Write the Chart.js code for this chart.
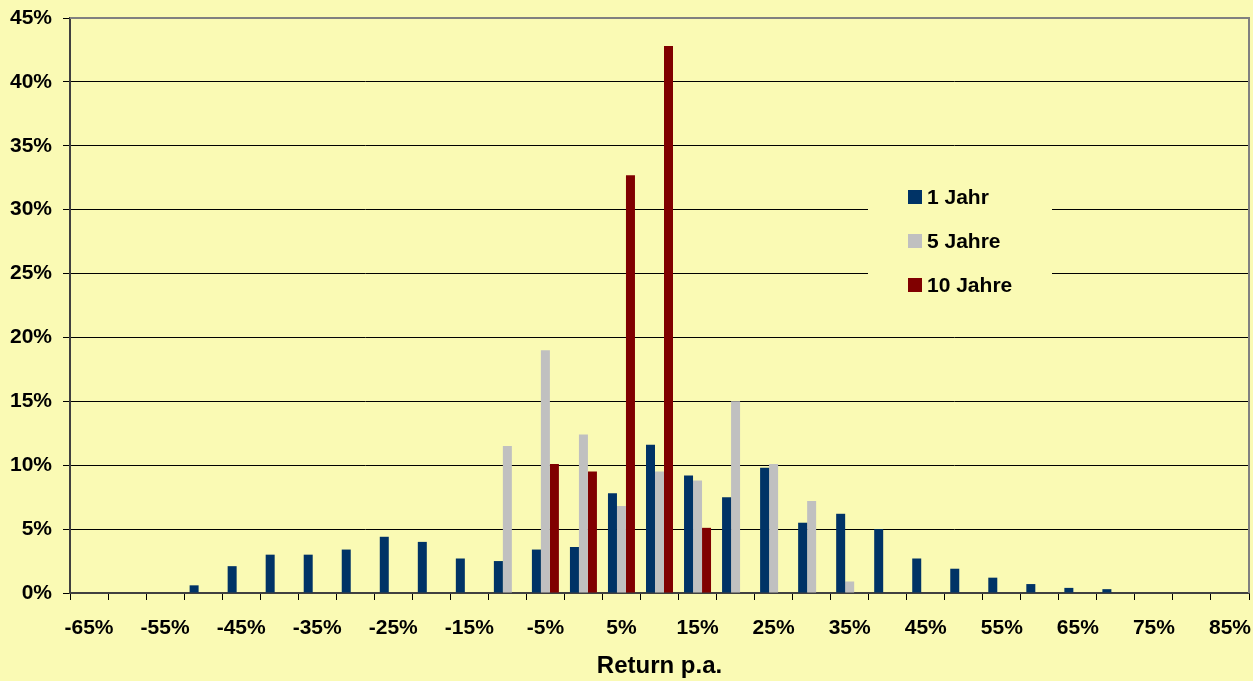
<!DOCTYPE html>
<html>
<head>
<meta charset="utf-8">
<script src="https://cdn.jsdelivr.net/npm/chart.js@4/dist/chart.umd.min.js"></script>
<style>
  html, body { margin: 0; padding: 0; background: #fafab4; }
  #chart1 { display: block; }
</style>
</head>
<body>
<canvas id="chart1" width="1253" height="681"></canvas>
<script>
var labels = ["-65%","-60%","-55%","-50%","-45%","-40%","-35%","-30%","-25%","-20%","-15%",
              "-10%","-5%","0%","5%","10%","15%","20%","25%","30%","35%","40%","45%",
              "50%","55%","60%","65%","70%","75%","80%","85%"];

var oneYear   = [null,null,null,0.6,2.1,3.0,3.0,3.4,4.4,4.0,2.7,
                 2.5,3.4,3.6,7.8,11.6,9.2,7.5,9.8,5.5,6.2,5.0,2.7,
                 1.9,1.2,0.7,0.4,0.3,null,null,null];
var fiveYears = [null,null,null,null,null,null,null,null,null,null,null,
                 11.5,19.0,12.4,6.8,9.5,8.8,15.0,10.1,7.2,0.9,null,null,
                 null,null,null,null,null,null,null,null];
var tenYears  = [null,null,null,null,null,null,null,null,null,null,null,
                 null,10.1,9.5,32.7,42.8,5.1,null,null,null,null,null,null,
                 null,null,null,null,null,null,null,null];

var bg = "#fafab4";
var font = "'Liberation Sans', Arial, sans-serif";

// yellow page background
var background = {
  id: "background",
  beforeDraw: function (chart) {
    var ctx = chart.ctx;
    ctx.save();
    ctx.fillStyle = bg;
    ctx.fillRect(0, 0, chart.width, chart.height);
    ctx.restore();
  }
};

// grey frame on top and right of plot
var frame = {
  id: "frame",
  afterDatasetsDraw: function (chart) {
    var a = chart.chartArea, ctx = chart.ctx;
    ctx.save();
    ctx.strokeStyle = "#808080";
    ctx.lineWidth = 2;
    ctx.beginPath();
    ctx.moveTo(a.left, a.top);
    ctx.lineTo(a.right, a.top);
    ctx.lineTo(a.right, a.bottom);
    ctx.stroke();
    ctx.restore();
  }
};

// legend box inside plot
var boxLegend = {
  id: "boxLegend",
  afterDatasetsDraw: function (chart) {
    var a = chart.chartArea, ctx = chart.ctx;
    var x0 = a.left + 798, y0 = a.top + 155;
    ctx.save();
    ctx.fillStyle = bg;
    ctx.fillRect(x0, y0, 184, 150);
    ctx.font = "bold 21px " + font;
    ctx.textBaseline = "middle";
    chart.data.datasets.forEach(function (ds, i) {
      var cy = y0 + 24 + i * 44;
      ctx.fillStyle = ds.backgroundColor;
      ctx.fillRect(x0 + 40, cy - 7, 14, 14);
      ctx.fillStyle = "#000";
      ctx.fillText(ds.label, x0 + 59, cy + 1);
    });
    ctx.restore();
  }
};

new Chart("chart1", {
  type: "bar",
  data: {
    labels: labels,
    datasets: [
      { label: "1 Jahr",   data: oneYear,   backgroundColor: "#003366" },
      { label: "5 Jahre",  data: fiveYears, backgroundColor: "#c0c0c0" },
      { label: "10 Jahre", data: tenYears,  backgroundColor: "#800000" }
    ]
  },
  options: {
    responsive: false,
    animation: false,
    devicePixelRatio: 1,
    categoryPercentage: 0.71,
    barPercentage: 1.0,
    layout: { padding: { top: 18, right: 4, left: 0, bottom: 0 } },
    plugins: {
      legend: { display: false },
      tooltip: { enabled: false }
    },
    scales: {
      x: {
        afterFit: function (s) { s.height = 88; s.paddingLeft = 0; s.paddingRight = 0; },
        border: { color: "#404040", width: 2 },
        grid: {
          drawOnChartArea: false,
          drawTicks: true,
          tickLength: 7,
          color: "#000",
          offset: true
        },
        ticks: {
          autoSkip: false,
          maxRotation: 0,
          padding: 16,
          color: "#000",
          font: { family: font, size: 21, weight: "bold" },
          callback: function (v, i) { return i % 2 === 0 ? labels[i] : ""; }
        },
        title: {
          display: true,
          text: "Return p.a.",
          color: "#000",
          font: { family: font, size: 24, weight: "bold" },
          padding: { top: 0, bottom: 0 }
        }
      },
      y: {
        min: 0,
        max: 45,
        afterFit: function (s) { s.width = 70; s.paddingTop = 0; s.paddingBottom = 0; },
        border: { color: "#404040", width: 2 },
        grid: {
          color: "#000",
          lineWidth: 1,
          tickLength: 7
        },
        ticks: {
          stepSize: 5,
          padding: 11,
          color: "#000",
          font: { family: font, size: 21, weight: "bold" },
          callback: function (v) { return v + "%"; }
        }
      }
    }
  },
  plugins: [background, frame, boxLegend]
});
</script>
</body>
</html>
